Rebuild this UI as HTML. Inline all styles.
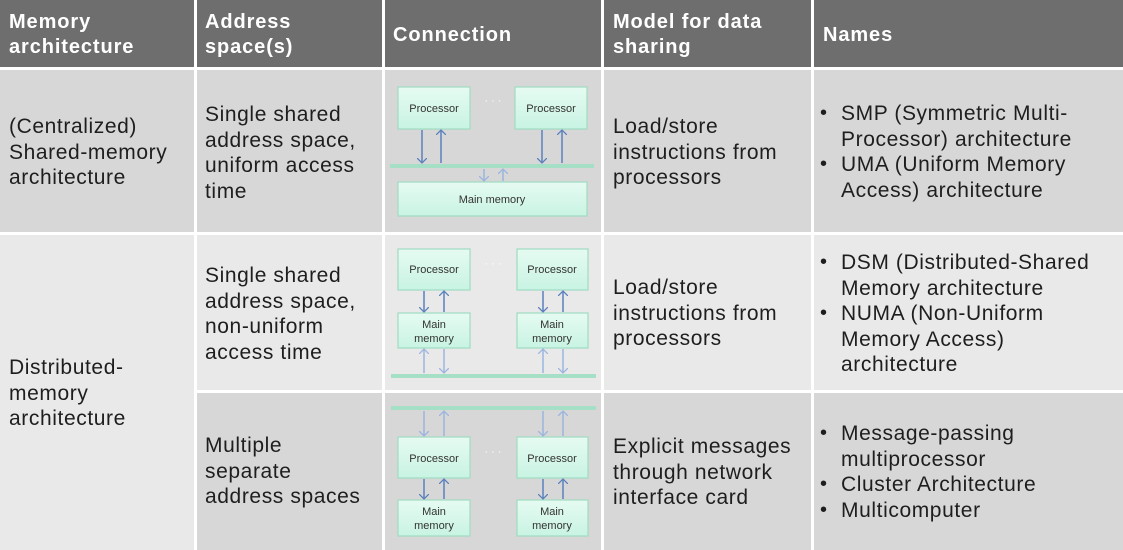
<!DOCTYPE html>
<html><head><meta charset="utf-8"><style>
body{margin:0;width:1123px;height:550px;overflow:hidden;background:#fff;font-family:"Liberation Sans",sans-serif;position:relative}
.bg{position:absolute}
.t{position:absolute;font-size:21px;line-height:25.5px;color:#1e1e1e;white-space:nowrap;letter-spacing:0.6px}
.h{position:absolute;font-size:20px;line-height:25px;color:#fff;font-weight:bold;white-space:nowrap;letter-spacing:0.9px}
ul{margin:0;padding:0;list-style:none}
li{position:relative;padding-left:27px}
li:before{content:"•";position:absolute;left:6px;font-size:20px}
</style></head><body>
<div class="bg" style="left:0;top:0;width:1123px;height:67px;background:#6e6e6e"></div>
<div class="bg" style="left:0;top:70px;width:1123px;height:162px;background:#d7d7d7"></div>
<div class="bg" style="left:0;top:235px;width:1123px;height:155px;background:#e9e9e9"></div>
<div class="bg" style="left:196px;top:393px;width:927px;height:157px;background:#d7d7d7"></div>
<div class="bg" style="left:0;top:235px;width:195px;height:315px;background:#e9e9e9"></div>
<div class="bg" style="left:194px;top:0;width:3px;height:550px;background:#fff"></div>
<div class="bg" style="left:382px;top:0;width:3px;height:550px;background:#fff"></div>
<div class="bg" style="left:601px;top:0;width:3px;height:550px;background:#fff"></div>
<div class="bg" style="left:811px;top:0;width:3px;height:550px;background:#fff"></div>

<div class="h" style="left:9px;top:10px">Memory<br>architecture</div>
<div class="h" style="left:205px;top:10px">Address<br>space(s)</div>
<div class="h" style="left:393px;top:23px">Connection</div>
<div class="h" style="left:613px;top:10px">Model for data<br>sharing</div>
<div class="h" style="left:823px;top:23px">Names</div>

<div class="t" style="left:9px;top:114px">(Centralized)<br>Shared-memory<br>architecture</div>
<div class="t" style="left:205px;top:102px">Single shared<br>address space,<br>uniform access<br>time</div>
<div class="t" style="left:613px;top:114px">Load/store<br>instructions from<br>processors</div>
<div class="t" style="left:814px;top:101px"><ul><li>SMP (Symmetric Multi-<br>Processor) architecture</li><li>UMA (Uniform Memory<br>Access) architecture</li></ul></div>

<div class="t" style="left:9px;top:355px">Distributed-<br>memory<br>architecture</div>
<div class="t" style="left:205px;top:263px">Single shared<br>address space,<br>non-uniform<br>access time</div>
<div class="t" style="left:613px;top:275px">Load/store<br>instructions from<br>processors</div>
<div class="t" style="left:814px;top:250px"><ul><li>DSM (Distributed-Shared<br>Memory architecture</li><li>NUMA (Non-Uniform<br>Memory Access)<br>architecture</li></ul></div>

<div class="t" style="left:205px;top:433px">Multiple<br>separate<br>address spaces</div>
<div class="t" style="left:613px;top:434px">Explicit messages<br>through network<br>interface card</div>
<div class="t" style="left:814px;top:421px"><ul><li>Message-passing<br>multiprocessor</li><li>Cluster Architecture</li><li>Multicomputer</li></ul></div>

<svg class="bg" style="left:0;top:0" width="1123" height="550" font-family="Liberation Sans, sans-serif" font-size="11" fill="#333">
<defs>
<linearGradient id="g" x1="0" y1="0" x2="0" y2="1"><stop offset="0" stop-color="#e6fbf2"/><stop offset="1" stop-color="#c8f3e2"/></linearGradient>
<marker id="a" markerWidth="10" markerHeight="10" refX="5" refY="5" orient="auto" markerUnits="userSpaceOnUse"><path d="M0,0 L5,5 L0,10" fill="none" stroke="#5a80bd" stroke-width="1.3"/></marker>
<marker id="b" markerWidth="10" markerHeight="10" refX="5" refY="5" orient="auto" markerUnits="userSpaceOnUse"><path d="M0,0 L5,5 L0,10" fill="none" stroke="#9bb5de" stroke-width="1.3"/></marker>
</defs>
<g stroke="#9fdcc2" stroke-width="1.2" fill="url(#g)">
<rect x="398" y="87" width="72" height="42"/><rect x="515" y="87" width="72" height="42"/>
<rect x="398" y="182" width="189" height="34"/>
<rect x="398" y="249" width="72" height="41"/><rect x="517" y="249" width="71" height="41"/>
<rect x="398" y="313" width="72" height="35"/><rect x="517" y="313" width="71" height="35"/>
<rect x="398" y="437" width="72" height="41"/><rect x="517" y="437" width="71" height="41"/>
<rect x="398" y="500" width="72" height="36"/><rect x="517" y="500" width="71" height="36"/>
</g>
<g fill="#a5dfc6"><rect x="390" y="164" width="204" height="4"/><rect x="391" y="374" width="205" height="4"/><rect x="391" y="406" width="205" height="4"/></g>
<g text-anchor="middle">
<text x="434" y="112">Processor</text><text x="551" y="112">Processor</text>
<text x="492" y="203">Main memory</text>
<text x="434" y="273">Processor</text><text x="552" y="273">Processor</text>
<text x="434" y="328">Main</text><text x="434" y="342">memory</text>
<text x="552" y="328">Main</text><text x="552" y="342">memory</text>
<text x="434" y="462">Processor</text><text x="552" y="462">Processor</text>
<text x="434" y="515">Main</text><text x="434" y="529">memory</text>
<text x="552" y="515">Main</text><text x="552" y="529">memory</text>
<text x="493" y="104" fill="#fff">· · ·</text><text x="493" y="267" fill="#fff">· · ·</text><text x="493" y="455" fill="#fff">· · ·</text>
</g>
<g stroke="#5a80bd" stroke-width="1.5" fill="none">
<line x1="422" y1="130" x2="422" y2="163" marker-end="url(#a)"/><line x1="441" y1="163" x2="441" y2="130" marker-end="url(#a)"/>
<line x1="542" y1="130" x2="542" y2="163" marker-end="url(#a)"/><line x1="562" y1="163" x2="562" y2="130" marker-end="url(#a)"/>
<line x1="424" y1="291" x2="424" y2="312" marker-end="url(#a)"/><line x1="444" y1="312" x2="444" y2="291" marker-end="url(#a)"/>
<line x1="543" y1="291" x2="543" y2="312" marker-end="url(#a)"/><line x1="563" y1="312" x2="563" y2="291" marker-end="url(#a)"/>
<line x1="424" y1="479" x2="424" y2="499" marker-end="url(#a)"/><line x1="444" y1="499" x2="444" y2="479" marker-end="url(#a)"/>
<line x1="543" y1="479" x2="543" y2="499" marker-end="url(#a)"/><line x1="563" y1="499" x2="563" y2="479" marker-end="url(#a)"/>
</g>
<g stroke="#9bb5de" stroke-width="1.5" fill="none">
<line x1="484" y1="169" x2="484" y2="181" marker-end="url(#b)"/><line x1="503" y1="181" x2="503" y2="169" marker-end="url(#b)"/>
<line x1="424" y1="373" x2="424" y2="349" marker-end="url(#b)"/><line x1="444" y1="349" x2="444" y2="373" marker-end="url(#b)"/>
<line x1="543" y1="373" x2="543" y2="349" marker-end="url(#b)"/><line x1="563" y1="349" x2="563" y2="373" marker-end="url(#b)"/>
<line x1="424" y1="411" x2="424" y2="436" marker-end="url(#b)"/><line x1="444" y1="436" x2="444" y2="411" marker-end="url(#b)"/>
<line x1="543" y1="411" x2="543" y2="436" marker-end="url(#b)"/><line x1="563" y1="436" x2="563" y2="411" marker-end="url(#b)"/>
</g>
</svg>
</body></html>
